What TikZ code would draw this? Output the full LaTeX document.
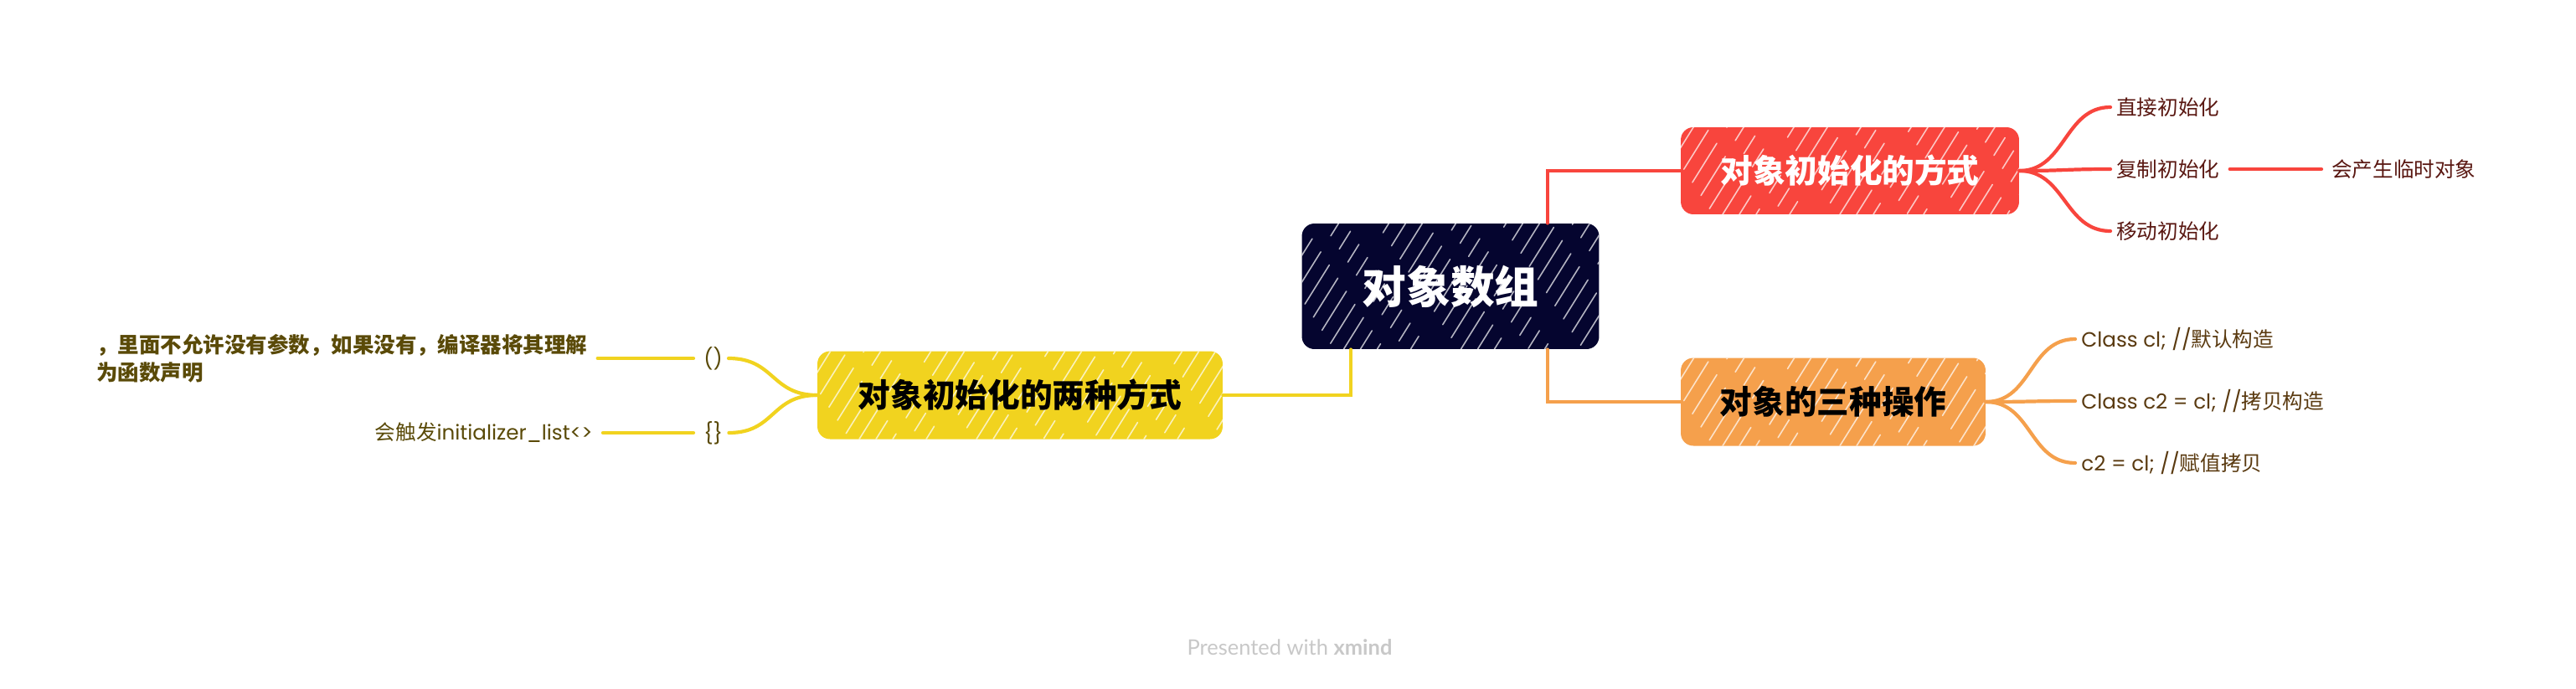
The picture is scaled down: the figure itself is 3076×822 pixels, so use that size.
\documentclass[tikz,border=0pt]{standalone}
\usepackage{fontspec}
\setmainfont{Noto Sans CJK SC}
\newfontfamily\footfont{Lato}
\newfontfamily\lat{Poppins}
\usetikzlibrary{calc}

\definecolor{navy}{HTML}{05052F}
\definecolor{cred}{HTML}{F8453D}
\definecolor{corange}{HTML}{F5A04C}
\definecolor{cyellow}{HTML}{F1D31F}
\definecolor{tred}{HTML}{5A1812}
\definecolor{torange}{HTML}{5A3A10}
\definecolor{tyellow}{HTML}{5A4A08}
\definecolor{cfoot}{HTML}{C8C8C8}

\tikzset{
  hatch/.style={path picture={
    \foreach \i in {0,...,34}{
      \draw[white, line width=0.9pt, opacity=0.7, line cap=round,
            dash pattern=on 1.1cm off 0.45cm on 0.5cm off 0.7cm,
            dash phase={\i*3.7mm}]
        ([xshift=\i*0.4cm-2.2cm]path picture bounding box.south west) -- ++(58:4.2cm);
    }}},
  box/.style={rounded corners=0.3cm, inner sep=0pt, align=center, hatch},
  rootbox/.style={box, fill=navy, text=white, minimum width=7.1cm, minimum height=3cm,
    font={\fontsize{30}{36}\selectfont\bfseries}},
  topicbox/.style={box, minimum height=2.08cm, font={\fontsize{22}{26}\selectfont\bfseries}},
  leaf/.style={inner xsep=0.14cm, inner ysep=2pt, font={\fontsize{14}{17}\selectfont}},
  conn/.style={line width=2.2pt, line cap=round},
  fork/.style={line width=2.4pt, line cap=round},
}

\begin{document}
\begin{tikzpicture}[x=0.02cm, y=-0.02cm]
\fill[white] (0,0) rectangle (3076,822);
\useasboundingbox (0,0) rectangle (3076,822);

% main nodes
\node[rootbox] (root) at (1732,342) {对象数组};
\node[topicbox, fill=cred, text=white, minimum width=8.08cm] (b1) at (2209,204) {对象初始化的方式};
\node[topicbox, fill=corange, text=black, minimum width=7.28cm, minimum height=2.1cm] (b2) at (2189,480) {对象的三种操作};
\node[topicbox, fill=cyellow, text=black, minimum width=9.68cm, minimum height=2.1cm] (b3) at (1218,472) {对象初始化的两种方式};

% red children
\node[leaf, text=tred, anchor=west] (r1) at (2520,128) {直接初始化};
\node[leaf, text=tred, anchor=west] (r2) at (2520,202) {复制初始化};
\node[leaf, text=tred, anchor=west] (r3) at (2520,276) {移动初始化};
\node[leaf, text=tred, anchor=west] (r21) at (2777,202) {会产生临时对象};

% orange children
\node[leaf, text=torange, anchor=west] (o1) at (2478,405) {{\lat Class cl; //}默认构造};
\node[leaf, text=torange, anchor=west] (o2) at (2478,479) {{\lat Class c2 = cl; //}拷贝构造};
\node[leaf, text=torange, anchor=west] (o3) at (2478,553) {{\lat c2 = cl; //}赋值拷贝};

% yellow children
\node[leaf, text=tyellow, anchor=west] (y1) at (833,428) {\lat ()};
\node[leaf, text=tyellow, anchor=west] (y2) at (833,517) {\lat \{\}};
\node[leaf, text=tyellow, anchor=west, align=left,
      font={\fontsize{14.5}{18.7}\selectfont\bfseries}] (y11) at (108,428)
      {，里面不允许没有参数，如果没有，编译器将其理解\\为函数声明};
\node[leaf, text=tyellow, anchor=east] (y21) at (715,517) {会触发{\lat initializer\_list<>}};

% footer
\node[font={\footfont\fontsize{14.5}{17}\selectfont}, text=cfoot] (foot) at (1540,773)
  {Presented with \textbf{xmind}};

% connectors from root
\draw[conn, cred] ([xshift=-1.24cm]root.north east) |- (b1.west);
\draw[conn, corange] ([xshift=-1.24cm]root.south east) |- (b2.west);
\draw[conn, cyellow] ([xshift=1.18cm]root.south west) |- (b3.east);

% forks
\foreach \n in {r1,r2,r3}
  \draw[fork, cred] (b1.east) .. controls +(55,0) and +(-55,0) .. (\n.west);
\foreach \n in {o1,o2,o3}
  \draw[fork, corange] (b2.east) .. controls +(55,0) and +(-55,0) .. (\n.west);
\foreach \n in {y1,y2}
  \draw[fork, cyellow] (b3.west) .. controls +(-55,0) and +(55,0) .. (\n.east);

% leaf to leaf
\draw[fork, cred, shorten <=0.1cm, shorten >=0.1cm] (r2.east) -- (r21.west);
\draw[fork, cyellow, shorten <=0.1cm, shorten >=0.1cm] (y1.west) -- (y1.west -| y11.east);
\draw[fork, cyellow, shorten <=0.1cm, shorten >=0.1cm] (y2.west) -- (y21.east);
\end{tikzpicture}
\end{document}
